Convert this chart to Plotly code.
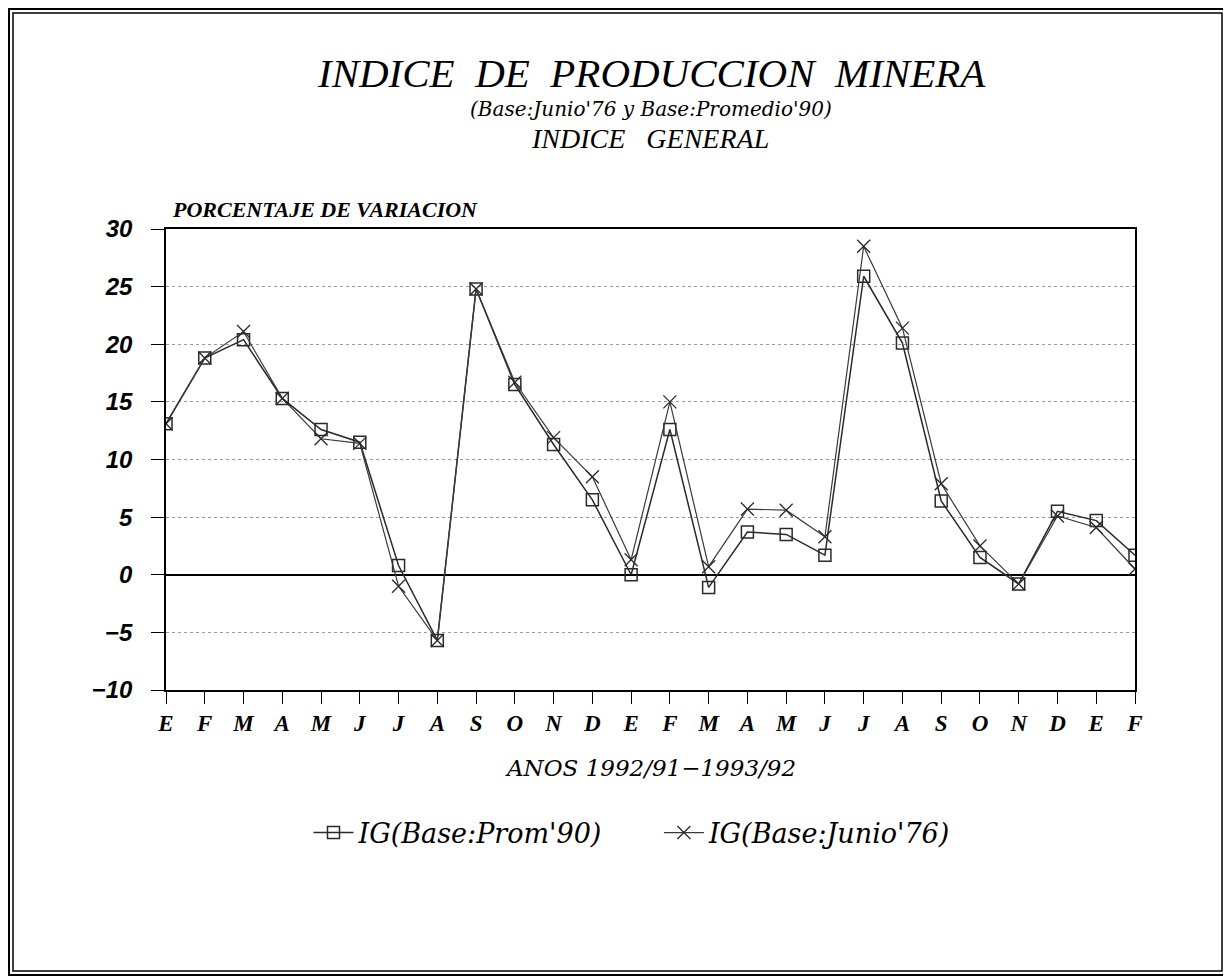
import plotly.graph_objects as go

months = ["E", "F", "M", "A", "M", "J", "J", "A", "S", "O", "N", "D",
          "E", "F", "M", "A", "M", "J", "J", "A", "S", "O", "N", "D", "E", "F"]
ig_prom90 = [13.1, 18.8, 20.4, 15.3, 12.6, 11.5, 0.8, -5.7, 24.8, 16.5, 11.3, 6.5,
             0.0, 12.6, -1.1, 3.7, 3.5, 1.7, 25.9, 20.1, 6.4, 1.5, -0.8, 5.5, 4.7, 1.7]
ig_jun76 = [13.1, 18.8, 21.1, 15.3, 11.8, 11.4, -1.0, -5.7, 24.8, 16.7, 11.9, 8.5,
            1.3, 15.0, 0.7, 5.7, 5.6, 3.3, 28.5, 21.4, 7.9, 2.5, -0.8, 5.1, 4.1, 0.5]
y_ticks = [-10, -5, 0, 5, 10, 15, 20, 25, 30]
series_names = ["IG(Base:Prom'90)", "IG(Base:Junio'76)"]

OFF = 8  # page body margin
W, H = 1231 - OFF, 980 - OFF
L, R, T, B = 166 - OFF, 1135 - OFF, 229 - OFF, 690 - OFF


def px(x):
    return (x - OFF - L) / (R - L)


def py(y):
    return (B - (y - OFF)) / (B - T)


xs = list(range(len(months)))
serif = "Liberation Serif"
dserif = "DejaVu Serif"
NB = "\u00a0"

fig = go.Figure()
fig.add_trace(go.Scatter(
    x=xs, y=ig_prom90, mode="lines+markers", name=series_names[0] + NB * 6,
    line=dict(color="#2a2a2a", width=1.5),
    marker=dict(symbol="square-open", size=12, color="#2a2a2a", line=dict(width=1.5)),
))
fig.add_trace(go.Scatter(
    x=xs, y=ig_jun76, mode="lines+markers", name=series_names[1],
    line=dict(color="#3a3a3a", width=1.2),
    marker=dict(symbol="x-thin-open", size=13, color="#2a2a2a", line=dict(width=1.3, color="#2a2a2a")),
))

fig.update_xaxes(
    range=[0, len(months) - 1], tickmode="array", tickvals=xs, ticktext=months,
    showgrid=False, zeroline=False, showline=True, linecolor="black", linewidth=1.5,
    mirror=True, ticks="outside", ticklen=12, tickcolor="black", tickwidth=1.2,
    tickfont=dict(family=serif, size=23, color="black", style="italic", weight="bold"),
)
fig.update_yaxes(
    range=[-10, 30], tickmode="array", tickvals=y_ticks,
    ticktext=[("\u2212" + str(-v)) if v < 0 else str(v) for v in y_ticks],
    showgrid=True, gridcolor="#9a9a9a", gridwidth=1, griddash="dot",
    zeroline=True, zerolinecolor="black", zerolinewidth=1.5,
    showline=True, linecolor="black", linewidth=1.5, mirror=True,
    ticks="outside", ticklen=13, tickcolor="black", tickwidth=1.2, ticklabelstandoff=14,
    tickfont=dict(family="Liberation Sans", size=24, color="black", style="italic", weight="bold"),
)

ann = []


def text(x, y, s, size, family=serif, bold=False, anchor="center"):
    ann.append(dict(x=px(x), y=py(y), xref="paper", yref="paper", text=s, showarrow=False,
                    xanchor=anchor, yanchor="middle",
                    font=dict(family=family, size=size, color="black", style="italic",
                              weight="bold" if bold else "normal")))


text(651, 73, "INDICE  DE  PRODUCCION  MINERA", 41)
text(651, 109, "(Base:Junio'76 y Base:Promedio'90)", 20, family=dserif)
text(650, 139, "INDICE   GENERAL", 28)
text(170, 209, "PORCENTAJE DE VARIACION", 22, bold=True, anchor="left")
text(650, 768, "ANOS 1992/91\u22121993/92", 23, family=dserif)
fig.update_layout(annotations=ann)

shapes = []
for inset, w in ((9, 2), (13, 1.5)):
    shapes.append(dict(type="rect", xref="paper", yref="paper",
                       x0=px(inset), x1=px(1231 - inset + 4), y0=py(980 - inset + 4), y1=py(inset),
                       line=dict(color="black", width=w), layer="below"))
fig.update_layout(shapes=shapes)

fig.update_layout(
    width=W, height=H,
    margin=dict(l=L, r=W - R, t=T, b=H - B, autoexpand=False),
    paper_bgcolor="white", plot_bgcolor="white",
    showlegend=True,
    legend=dict(orientation="h", x=px(632), xanchor="center", y=py(833), yanchor="middle",
                font=dict(family=dserif, size=27, color="black", style="italic"),
                bgcolor="rgba(0,0,0,0)", itemwidth=40, tracegroupgap=0),
)

fig.write_html("out.html")
